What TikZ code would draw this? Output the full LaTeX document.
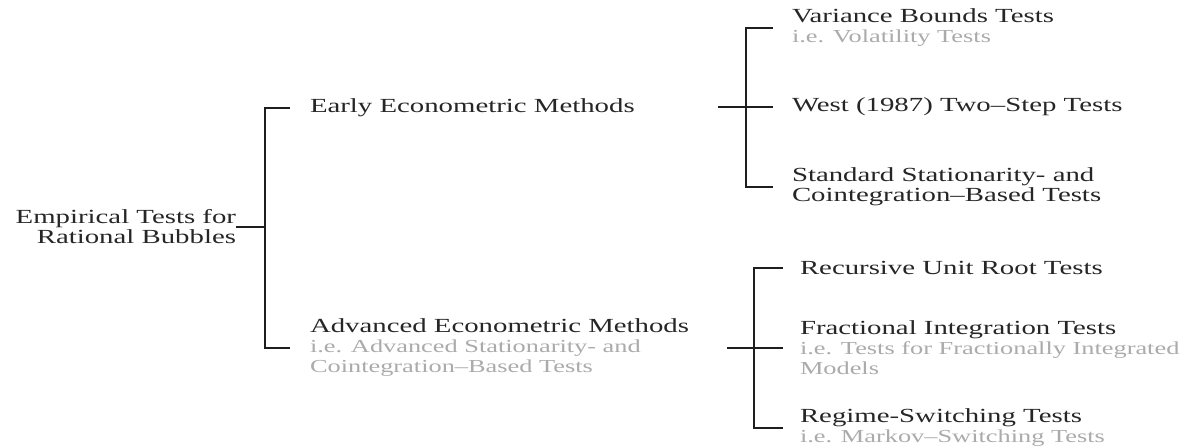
\documentclass[tikz,border=0pt]{standalone}
\usepackage{fontspec}
\setmainfont{Liberation Serif}[FakeStretch=1.44]
\definecolor{txtdark}{HTML}{262626}
\definecolor{txtgray}{HTML}{ABABAB}
\definecolor{linecol}{HTML}{1E1E1E}
\newcommand{\gr}[1]{{\fontsize{18.3}{20}\selectfont\textcolor{txtgray}{#1}}}
\tikzset{
  lbl/.style={inner sep=0pt, outer sep=0pt, text=txtdark, font=\fontsize{20}{20}\selectfont},
  lblL/.style={lbl, anchor=west, align=left},
  lblR/.style={lbl, anchor=east, align=right},
  conn/.style={draw=linecol, line width=1.3pt},
  connthin/.style={draw=linecol, line width=1.1pt}
}
\begin{document}
\begin{tikzpicture}[x=1pt, y=-1pt]
\useasboundingbox[fill=white] (0,0) rectangle (1194,446);

% root
\node[lblR] (root) at (236,227) {Empirical Tests for\\Rational Bubbles};

% level 1
\node[lblL] (early) at (310,108) {Early Econometric Methods};
\node[lblL] (adv) at (310,348) {Advanced Econometric Methods\\\gr{i.e. Advanced Stationarity- and}\\\gr{Cointegration–Based Tests}};

% level 2, early
\node[lblL] (var) at (792,28) {Variance Bounds Tests\\\gr{i.e. Volatility Tests}};
\node[lblL] (west) at (792,107) {West (1987) Two–Step Tests};
\node[lblL] (std) at (792,187) {Standard Stationarity- and\\Cointegration–Based Tests};

% level 2, advanced
\node[lblL] (rec) at (800,268) {Recursive Unit Root Tests};
\node[lblL] (frac) at (800,348) {Fractional Integration Tests\\\gr{i.e. Tests for Fractionally Integrated}\\\gr{Models}};
\node[lblL] (reg) at (800,428) {Regime-Switching Tests\\\gr{i.e. Markov–Switching Tests}};

% connectors root
\coordinate (rj) at (265,227);
\draw[conn] (root.east) -- (rj);
\draw[conn] ([xshift=-20pt]early.west) -| (rj) |- ([xshift=-20pt]adv.west);

% connectors early
\coordinate (ej) at (746,107);
\coordinate (es) at (718,107);
\draw[connthin] (es) -- (ej) -- ([xshift=-19pt]west.west);
\draw[connthin] ([xshift=-19pt]var.west) -| (ej) |- ([xshift=-19pt]std.west);

% connectors advanced
\coordinate (aj) at (754,348);
\coordinate (as) at (727,348);
\draw[conn] (as) -- (aj) -- ([xshift=-17pt]frac.west);
\draw[conn] ([xshift=-17pt]rec.west) -| (aj) |- ([xshift=-17pt]reg.west);
\end{tikzpicture}
\end{document}
